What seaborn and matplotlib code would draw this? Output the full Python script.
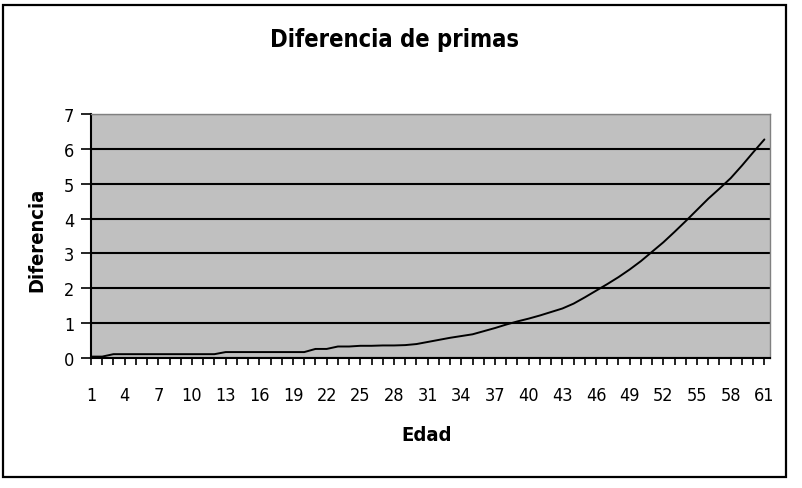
import numpy as np
import pandas as pd
import matplotlib
matplotlib.use("Agg")
import matplotlib.pyplot as plt
import seaborn as sns
from matplotlib.patches import Rectangle

ages = list(range(1, 62))
values = [0.04, 0.04,
          0.11, 0.11, 0.11, 0.11, 0.11, 0.11, 0.11, 0.11, 0.11, 0.11,
          0.17, 0.17, 0.17, 0.17, 0.17, 0.17, 0.17, 0.17,
          0.26, 0.26, 0.33, 0.33,
          0.35, 0.35, 0.36, 0.36, 0.37,
          0.40, 0.46, 0.52, 0.58, 0.63, 0.68, 0.77, 0.86, 0.96, 1.05,
          1.13, 1.22, 1.32, 1.42, 1.56, 1.74, 1.93, 2.12, 2.32, 2.54,
          2.78, 3.05, 3.32, 3.62, 3.93, 4.25, 4.57, 4.86, 5.16, 5.52,
          5.90, 6.27]
xtick_labels = list(range(1, 62, 3))
yticks = list(range(0, 8))

df = pd.DataFrame({"Edad": ages, "Diferencia": values})

sns.set_theme(style="white")
plt.rcParams["font.family"] = ["DejaVu Sans"]
plt.rcParams["font.stretch"] = "condensed"
plt.rcParams["text.color"] = "black"
plt.rcParams["axes.labelcolor"] = "black"
plt.rcParams["xtick.color"] = "black"
plt.rcParams["ytick.color"] = "black"

fig = plt.figure(figsize=(8.03, 4.89), dpi=100)
ax = fig.add_axes([91/803, 130/489, 679/803, 244/489])

# outer border of the chart
fig.patches.append(Rectangle((3/803, 11/489), 783/803, 472/489, transform=fig.transFigure,
                             fill=False, edgecolor="black", linewidth=1.6))

ax.set_facecolor("#c0c0c0")
sns.lineplot(data=df, x="Edad", y="Diferencia", color="black", linewidth=1.4, ax=ax)

ax.set_xlim(1, 61.5)
ax.set_ylim(0, 7)
ax.set_yticks(yticks)
ax.set_xticks(xtick_labels)
ax.set_xticks(ages, minor=True)
ax.set_xticklabels([str(v) for v in xtick_labels], fontsize=13, fontstretch="condensed")
ax.set_yticklabels([str(v) for v in yticks], fontsize=13, fontstretch="condensed")

ax.yaxis.grid(True, color="black", linewidth=1.5)
ax.xaxis.grid(False)
ax.set_axisbelow(True)

ax.tick_params(axis="x", which="both", direction="out", length=5, width=1.2, color="black",
               bottom=True, pad=15)
ax.tick_params(axis="y", which="major", direction="out", length=7, width=1.2, color="black",
               left=True, pad=5)

for side in ["top", "right"]:
    ax.spines[side].set_color("#808080")
    ax.spines[side].set_linewidth(1.0)
for side in ["left", "bottom"]:
    ax.spines[side].set_color("black")
    ax.spines[side].set_linewidth(1.5)

ax.set_xlabel("")
ax.set_ylabel("")
fig.text(427/803, 1 - 436/489, "Edad", ha="center", va="center",
         fontsize=14.5, fontweight="bold", fontstretch="condensed")
fig.text(37/803, 1 - 240/489, "Diferencia", ha="center", va="center", rotation=90,
         fontsize=14.5, fontweight="bold", fontstretch="condensed")
fig.text(395/803, 1 - 40/489, "Diferencia de primas", ha="center", va="center",
         fontsize=17, fontweight="bold", fontstretch="condensed")

fig.savefig("out.png", dpi=100, facecolor="white")
